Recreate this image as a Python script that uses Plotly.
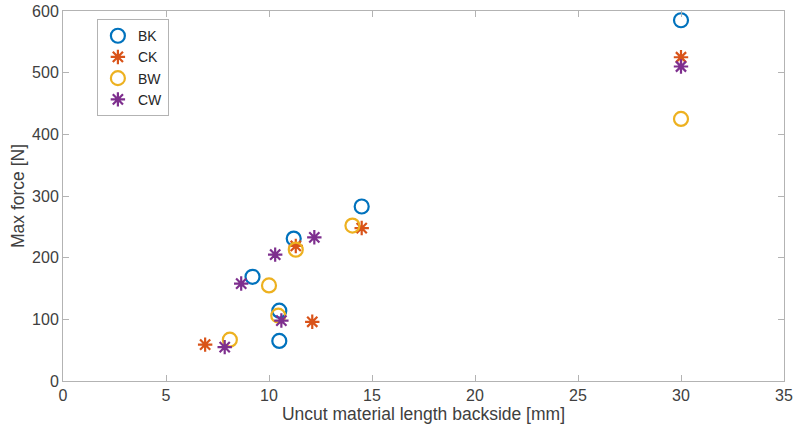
import plotly.graph_objects as go

bk_x = [30, 14.5, 11.2, 9.2, 10.5, 10.5]
bk_y = [585, 283, 231, 169, 114, 65]
ck_x = [30, 14.5, 11.3, 12.1, 6.9]
ck_y = [525, 248, 219, 96, 59]
bw_x = [30, 14.05, 11.3, 10.0, 10.45, 8.1]
bw_y = [425, 252, 213, 155, 106, 67]
cw_x = [30, 12.2, 10.3, 8.65, 10.6, 7.85]
cw_y = [510, 233, 205, 158, 98, 55]

series = [
    ("BK", bk_x, bk_y, "circle-open", "#0072BD"),
    ("CK", ck_x, ck_y, "asterisk-open", "#D95319"),
    ("BW", bw_x, bw_y, "circle-open", "#EDB120"),
    ("CW", cw_x, cw_y, "asterisk-open", "#7E2F8E"),
]

fig = go.Figure()
for name, xs, ys, sym, col in series:
    fig.add_trace(go.Scatter(
        x=xs, y=ys, mode="markers", name=name,
        marker=dict(symbol=sym, size=14 if sym == "circle-open" else 12,
                    color=col, line=dict(color=col, width=2.2)),
    ))

axis_common = dict(
    showgrid=False, zeroline=False, showline=True, linecolor="#b3b3b3",
    linewidth=1, mirror="ticks", ticks="inside", ticklen=6, tickcolor="#b3b3b3",
    automargin=False,
    tickfont=dict(family="Liberation Sans, Arial", size=16, color="#404040"),
)

fig.update_layout(
    width=796, height=433,
    margin=dict(l=63, r=12, t=11, b=52),
    paper_bgcolor="white", plot_bgcolor="white",
    font=dict(family="Liberation Sans, Arial", color="#404040"),
    showlegend=True,
    legend=dict(x=0.047, y=0.978, xanchor="left", yanchor="top",
                bgcolor="white", bordercolor="#b3b3b3", borderwidth=1,
                font=dict(size=14, color="#262626"), itemsizing="trace",
                itemwidth=30, tracegroupgap=0),
    xaxis=dict(range=[0, 35], tickvals=[0, 5, 10, 15, 20, 25, 30, 35],
               title=dict(text="Uncut material length backside [mm]",
                          font=dict(size=17.5, color="#404040"), standoff=3),
               **axis_common),
    yaxis=dict(range=[0, 600], tickvals=[0, 100, 200, 300, 400, 500, 600],
               title=dict(text="Max force [N]",
                          font=dict(size=17.5, color="#404040"), standoff=2),
               **axis_common),
)

fig.write_html("out.html")
